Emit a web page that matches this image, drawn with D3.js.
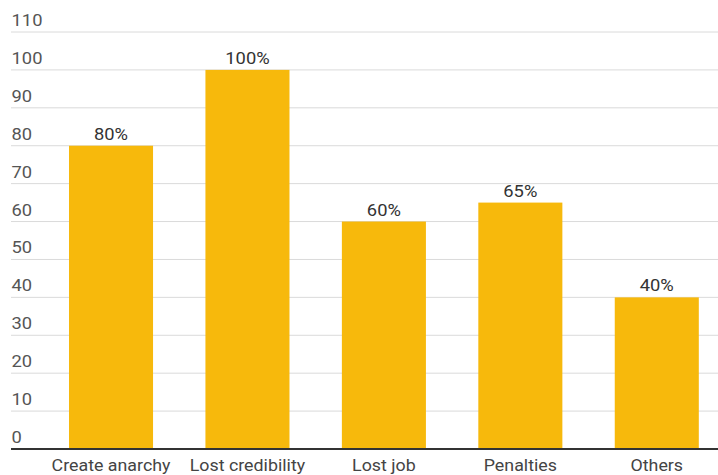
<!DOCTYPE html>
<html>
<head>
<meta charset="utf-8">
<script src="https://cdn.jsdelivr.net/npm/d3@7"></script>
<style>
  html, body { margin: 0; padding: 0; background: #fff; }
  svg { display: block; font-family: Roboto, "Noto Sans", sans-serif; }
</style>
</head>
<body>
<svg id="chart" width="718" height="475"></svg>
<script>
// Share of respondents per consequence
const categories = ["Create anarchy", "Lost credibility", "Lost job", "Penalties", "Others"];
const values = [80, 100, 60, 65, 40];
const valueLabels = ["80%", "100%", "60%", "65%", "40%"];
const yTicks = [0, 10, 20, 30, 40, 50, 60, 70, 80, 90, 100, 110];

const svg = d3.select("#chart");
const left = 11, right = 718;
const stretch = 1.08; // text is set slightly wide

const x = d3.scaleBand()
  .domain(categories)
  .range([42.8, 725])
  .paddingInner(0.384)
  .paddingOuter(0.192);

const y = d3.scaleLinear()
  .domain([0, 110])
  .range([449, 32]);

const place = (tx, ty) => `translate(${tx},${ty}) scale(${stretch},1)`;

// Horizontal gridlines with left-aligned tick labels above them
const grid = svg.append("g");
grid.selectAll("line")
  .data(yTicks.filter(d => d > 0))
  .join("line")
  .attr("x1", left).attr("x2", right)
  .attr("y1", d => y(d)).attr("y2", d => y(d))
  .attr("stroke", "#dadada")
  .attr("stroke-width", 1);

grid.selectAll("text")
  .data(yTicks)
  .join("text")
  .attr("transform", d => place(11.5, y(d) - 6))
  .attr("fill", "#555")
  .attr("font-size", 17)
  .text(d => d);

// Bars
svg.append("g").selectAll("rect")
  .data(categories)
  .join("rect")
  .attr("x", d => x(d))
  .attr("width", x.bandwidth())
  .attr("y", (d, i) => y(values[i]))
  .attr("height", (d, i) => y(0) - y(values[i]))
  .attr("fill", "#F7B90C");

// Value labels above bars
svg.append("g").selectAll("text")
  .data(categories)
  .join("text")
  .attr("transform", (d, i) => place(x(d) + x.bandwidth() / 2, y(values[i]) - 6))
  .attr("text-anchor", "middle")
  .attr("fill", "#333")
  .attr("font-size", 17)
  .text((d, i) => valueLabels[i]);

// Baseline
svg.append("line")
  .attr("x1", left).attr("x2", right)
  .attr("y1", y(0)).attr("y2", y(0))
  .attr("stroke", "#333")
  .attr("stroke-width", 2);

// Category labels
svg.append("g").selectAll("text")
  .data(categories)
  .join("text")
  .attr("transform", d => place(x(d) + x.bandwidth() / 2, 470.5))
  .attr("text-anchor", "middle")
  .attr("fill", "#444")
  .attr("font-size", 16.5)
  .text(d => d);
</script>
</body>
</html>
